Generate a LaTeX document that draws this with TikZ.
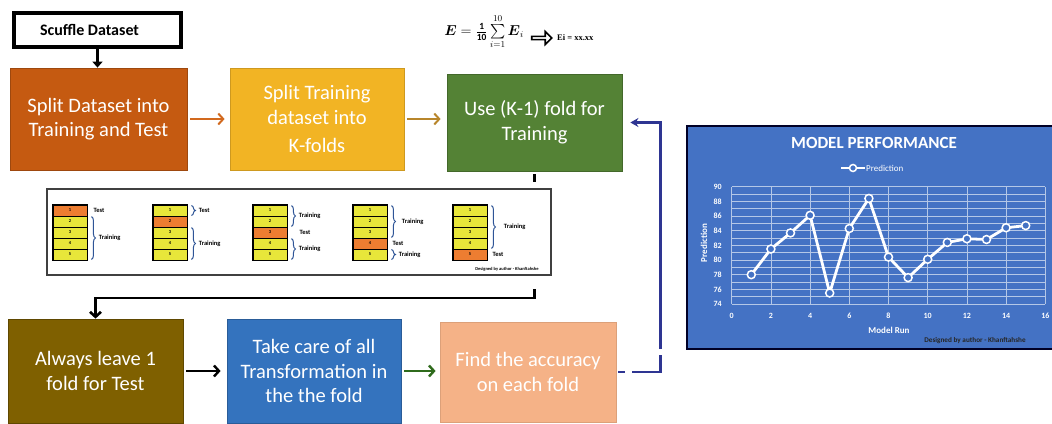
\documentclass[tikz,border=0pt]{standalone}
\usepackage{fontspec}
\setmainfont{Carlito}
\newfontfamily\serifb{Liberation Serif}
\usetikzlibrary{arrows.meta,decorations.pathreplacing,calc,shapes.arrows}
\definecolor{cA}{HTML}{C55A11}
\definecolor{cB}{HTML}{F2B424}
\definecolor{cC}{HTML}{548235}
\definecolor{cD}{HTML}{7F6000}
\definecolor{cE}{HTML}{3473BE}
\definecolor{cF}{HTML}{F5B287}
\definecolor{chartbg}{HTML}{4472C4}
\definecolor{navy}{HTML}{2E3592}
\definecolor{arrA}{HTML}{D2691E}
\definecolor{arrB}{HTML}{B8862B}
\definecolor{arrE}{HTML}{2F6B1C}
\definecolor{fyellow}{HTML}{E8E63A}
\definecolor{forange}{HTML}{ED7D31}
\definecolor{braceblue}{HTML}{2F5597}
\newcommand{\myEformula}{\ensuremath{\boldsymbol{E}=\frac{\mathbf{1}}{\mathbf{10}}\sum\limits_{i=1}^{10}\boldsymbol{E}_i}}
\usepackage{amsmath}
\begin{document}
\begin{tikzpicture}[x=1pt,y=-1pt,
  flow/.style={draw, line width=0.8pt, text=white, align=center, inner sep=0pt,
    font=\fontsize{20.5}{24.5}\selectfont},
  conn/.style={line width=2.4pt, -{Straight Barb[length=5pt,width=11pt]}},
  cell/.style={draw=black, line width=0.9pt, minimum width=34pt, minimum height=11pt,
    inner sep=0pt, font=\fontsize{4.5}{5}\selectfont\bfseries},
  lbl/.style={font=\fontsize{6.5}{7}\selectfont\bfseries, inner sep=0pt},
  fbrace/.style={draw=braceblue, line width=1pt, decorate, decoration={brace, amplitude=4pt}},
  ticklbl/.style={text=white, font=\fontsize{8}{9}\selectfont\bfseries, inner sep=0pt},
  gridline/.style={draw=white!60!chartbg, line width=0.7pt},
  mk/.style={circle, draw=white, fill=chartbg, line width=1.5pt, inner sep=0pt, minimum size=8pt},
]
\useasboundingbox (0,0) rectangle (1052,423);
\fill[white] (0,0) rectangle (1052,423);

% ---- top row
\node[draw=black, line width=4pt, minimum width=167pt, minimum height=34pt,
  font=\fontsize{16}{18}\selectfont\bfseries, inner sep=0pt] (scuffle) at (97.5,30) {\hspace*{-16pt}Scuffle Dataset};
\node[flow, fill=cA, draw=cA!80!black, minimum width=177pt, minimum height=102pt] (box1) at (98.5,119)
  {Split Dataset into\\Training and Test};
\node[flow, fill=cB, draw=cB!85!black, minimum width=174pt, minimum height=102pt] (box2) at (317,119)
  {Split Training\\dataset into\\[4pt]K-folds};
\node[flow, fill=cC, draw=cC!80!black, minimum width=175pt, minimum height=97pt] (box3) at (534.5,122.5)
  {Use (K-1) fold for\\Training};

% ---- formula
\node[inner sep=0pt, font=\fontsize{13.5}{15}\selectfont] (eform) at (484,32) {\myEformula};
\node[single arrow, draw=black, line width=1.6pt, minimum height=20pt, minimum width=13pt,
  single arrow head extend=2.5pt, inner sep=0pt] (harrow) at (541,38) {};
\node[anchor=west, inner sep=0pt, font=\serifb\fontsize{8.5}{9}\selectfont\bfseries] (eival) at (557,38) {Ei = xx.xx};

% ---- fold strip
\node[draw=black!75, line width=2pt, fill=white, minimum width=504pt, minimum height=86pt, inner sep=0pt]
  (strip) at (299,232) {};
\foreach \k in {1,...,5}{
  \foreach \i in {1,...,5}{
    \ifnum\i=\k\def\cf{forange}\else\def\cf{fyellow}\fi
    \node[cell, fill=\cf, name=c\k\i] at ({53+100*(\k-1)+17},{205+11*\i-5.5}) {\i};
  }
  \draw[line width=1.5pt] (c\k1.north west) rectangle (c\k5.south east);
}
% column 1
\node[lbl, anchor=west, name=t11] at ([xshift=6pt]c11.east) {Test};
\draw[fbrace] ([xshift=4pt,yshift=-1pt]c12.north east) -- ([xshift=4pt,yshift=1pt]c15.south east)
  node[lbl, midway, anchor=west, xshift=7pt, name=t12] {Training};
% column 2
\draw[fbrace] ([xshift=4pt,yshift=-1pt]c21.north east) -- ([xshift=4pt,yshift=1pt]c21.south east)
  node[lbl, midway, anchor=west, xshift=7pt, name=t21] {Test};
\draw[fbrace] ([xshift=4pt,yshift=-1pt]c23.north east) -- ([xshift=4pt,yshift=1pt]c25.south east)
  node[lbl, midway, anchor=west, xshift=7pt, name=t23] {Training};
% column 3
\draw[fbrace] ([xshift=4pt,yshift=-1pt]c31.north east) -- ([xshift=4pt,yshift=1pt]c32.south east)
  node[lbl, midway, anchor=west, xshift=7pt, name=t31] {Training};
\node[lbl, anchor=west, name=t33] at ([xshift=12pt]c33.east) {Test};
\draw[fbrace] ([xshift=4pt,yshift=-1pt]c34.north east) -- ([xshift=4pt,yshift=1pt]c35.south east)
  node[lbl, midway, anchor=west, xshift=7pt, name=t34] {Training};
% column 4
\draw[fbrace] ([xshift=4pt,yshift=-1pt]c41.north east) -- ([xshift=4pt,yshift=1pt]c43.south east)
  node[lbl, midway, anchor=west, xshift=10pt, name=t41] {Training};
\node[lbl, anchor=west, name=t44] at ([xshift=5pt]c44.east) {Test};
\draw[fbrace] ([xshift=4pt,yshift=-1pt]c45.north east) -- ([xshift=4pt,yshift=1pt]c45.south east)
  node[lbl, midway, anchor=west, xshift=7pt, name=t45] {Training};
% column 5
\draw[fbrace] ([xshift=4pt,yshift=-1pt]c51.north east) -- ([xshift=4pt,yshift=1pt]c54.south east)
  node[lbl, midway, anchor=west, xshift=12pt, name=t51] {Training};
\node[lbl, anchor=west, name=t55] at ([xshift=5pt]c55.east) {Test};
\node[inner sep=0pt, font=\fontsize{4.5}{5}\selectfont\bfseries, name=scred] at (507,269)
  {Designed by author - Khanftahshe};

% ---- bottom row
\node[flow, fill=cD, draw=cD!75!black, minimum width=175pt, minimum height=104pt] (box4) at (95.5,371)
  {Always leave 1\\fold for Test};
\node[flow, fill=cE, draw=cE!80!black, minimum width=174pt, minimum height=104pt] (box5) at (314,371)
  {Take care of all\\Transformation in\\the the fold};
\node[flow, fill=cF, draw=cF!90!black, minimum width=176pt, minimum height=100pt] (box6) at (528,372)
  {Find the accuracy\\on each fold};

% ---- connectors
\draw[line width=3pt, -{Triangle[length=6pt,width=10pt]}] (scuffle.south) -- (scuffle.south |- box1.north);
\draw[conn, arrA, line width=2pt, shorten <=3pt, shorten >=5pt] (box1.east) -- (box2.west);
\draw[conn, arrB, line width=2pt, shorten <=3pt, shorten >=6pt] (box2.east) -- (box2.east -| box3.west);
\draw[line width=3pt, shorten <=3pt, shorten >=6pt] (box3.south) -- (box3.south |- strip.north);
\draw[conn, line width=2.6pt, shorten <=13pt] (box3.south |- strip.south) -- ++(0,22) -| (box4.north);
\draw[conn, line width=2.4pt, shorten <=3pt, shorten >=6pt] (box4.east) -- (box5.west);
\draw[conn, arrE, line width=2.4pt, shorten <=3pt, shorten >=4pt] (box5.east) -- (box5.east -| box6.west);
\draw[navy, line width=2.2pt, dash pattern=on 7pt off 7pt on 45pt off 6pt on 600pt,
  -{Stealth[length=8pt,width=9pt]}] ([xshift=2pt]box6.east) -- ++(42,0) |- ([xshift=8pt]box3.east);

% ---- chart
\node[draw=black!85!blue, line width=2pt, fill=chartbg, minimum width=372pt, minimum height=223pt,
  anchor=north west, inner sep=0pt] (chart) at (686,125) {};
\node[text=white, font=\fontsize{17}{18}\selectfont\bfseries, inner sep=0pt] (ctitle) at (874,143) {MODEL PERFORMANCE};
\draw[white, line width=2pt] (841,168) -- (865,168);
\node[mk, minimum size=7pt] (legm) at (853,168) {};
\node[text=white, font=\fontsize{9}{10}\selectfont, anchor=west, inner sep=0pt] (legt) at (866,168) {Prediction};
\begin{scope}[shift={(731.7,304)}, x=19.6pt, y=7.33pt]
  \foreach \w in {0,...,16} \draw[gridline] (0,\w) -- (16,\w);
  \foreach \v in {0,2,...,16} \draw[gridline] (\v,0) -- (\v,16);
  \foreach \w [count=\n] in {74,76,...,90} \node[ticklbl, anchor=east, name=yt\n] at (-0.5,\w-74) {\w};
  \foreach \v [count=\n] in {0,2,...,16} \node[ticklbl, name=xt\n] at (\v,-1.64) {\v};
  \draw[white, line width=2.8pt, line join=round] plot coordinates {(1,4) (2,7.5) (3,9.7) (4,12.1) (5,1.5)
    (6,10.3) (7,14.4) (8,6.4) (9,3.6) (10,6.1) (11,8.4) (12,8.9) (13,8.8) (14,10.4) (15,10.7)};
  \foreach \v/\w [count=\n] in {1/4, 2/7.5, 3/9.7, 4/12.1, 5/1.5, 6/10.3, 7/14.4, 8/6.4, 9/3.6, 10/6.1,
    11/8.4, 12/8.9, 13/8.8, 14/10.4, 15/10.7}
    \node[mk, name=p\n] at (\v,\w) {};
\end{scope}
\node[ticklbl, font=\fontsize{9}{10}\selectfont\bfseries, rotate=90, name=ylab] at (704,243) {Prediction};
\node[ticklbl, font=\fontsize{9}{10}\selectfont\bfseries, name=xlab] at (889,330) {Model Run};
\node[text=black!85, font=\fontsize{7.2}{8}\selectfont\bfseries, inner sep=0pt, name=ccred] at (975,341)
  {Designed by author - Khanftahshe};
\end{tikzpicture}
\end{document}
